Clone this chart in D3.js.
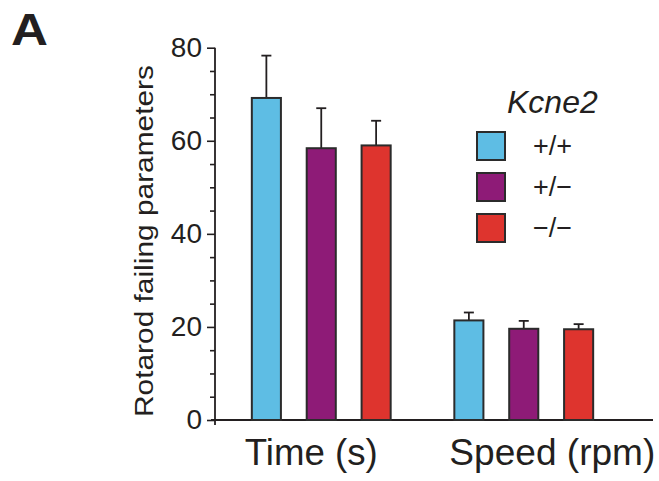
<!DOCTYPE html>
<html>
<head>
<meta charset="utf-8">
<script src="https://cdn.jsdelivr.net/npm/d3@7"></script>
<style>
  body { margin: 0; background: #fff; }
  text { font-family: "Liberation Sans", Arial, sans-serif; fill: #231f20; }
</style>
</head>
<body>
<svg id="chart"></svg>
<script>
const groups = ["Time (s)", "Speed (rpm)"];
const genotypes = ["+/+", "+/\u2212", "\u2212/\u2212"];
const colors = ["#5ebde4", "#8e1b77", "#de342e"];
// rows follow groups, columns follow genotypes
const means = [[69.2, 58.4, 59.0], [21.4, 19.6, 19.5]];
const errors = [[9.1, 8.6, 5.3], [1.7, 1.7, 1.1]];
const majorTicks = [0, 20, 40, 60, 80];
const minorTicks = [5, 10, 15, 25, 30, 35, 45, 50, 55, 65, 70, 75];

const width = 659;
const height = 481;
const axisX = 215;

const svg = d3.select("#chart").attr("width", width).attr("height", height);

const y = d3.scaleLinear().domain([0, 80]).range([420, 47.7]);

const x0 = d3.scaleBand().domain(groups).range([220, 625]);
const x1 = d3.scaleBand().domain(genotypes).range([0, x0.bandwidth()])
  .paddingInner(0.47).paddingOuter(0.58);

// y axis, major then minor ticks
const yAxis = svg.append("g")
  .attr("transform", `translate(${axisX},0)`)
  .call(d3.axisLeft(y).tickValues(majorTicks).tickSize(8).tickPadding(5));
yAxis.select(".domain").remove();
yAxis.selectAll("line").attr("stroke", "#231f20").attr("stroke-width", 1.6);
yAxis.selectAll("text")
  .style("font-size", "28px")
  .style("font-family", "'Liberation Sans', Arial, sans-serif")
  .attr("fill", "#231f20");

const yMinor = svg.append("g")
  .attr("transform", `translate(${axisX},0)`)
  .call(d3.axisLeft(y).tickValues(minorTicks).tickSize(5).tickFormat(""));
yMinor.select(".domain").remove();
yMinor.selectAll("line").attr("stroke", "#231f20").attr("stroke-width", 1.6);

svg.append("line")
  .attr("x1", axisX).attr("x2", axisX)
  .attr("y1", y(80)).attr("y2", y(0) + 5)
  .attr("stroke", "#231f20").attr("stroke-width", 1.8);

// x baseline
svg.append("line")
  .attr("x1", axisX - 4).attr("x2", 653)
  .attr("y1", y(0)).attr("y2", y(0))
  .attr("stroke", "#231f20").attr("stroke-width", 1.8);

// bars
const g = svg.selectAll(".group")
  .data(groups)
  .enter()
  .append("g")
  .attr("class", "group")
  .attr("transform", (d) => `translate(${x0(d)},0)`);

const cells = g.selectAll(".cell")
  .data((d, i) => genotypes.map((k, j) => ({ k, j, m: means[i][j], e: errors[i][j] })))
  .enter()
  .append("g")
  .attr("class", "cell");

cells.append("line")
  .attr("x1", (d) => x1(d.k) + x1.bandwidth() / 2)
  .attr("x2", (d) => x1(d.k) + x1.bandwidth() / 2)
  .attr("y1", (d) => y(d.m))
  .attr("y2", (d) => y(d.m + d.e))
  .attr("stroke", "#231f20").attr("stroke-width", 1.8);

cells.append("line")
  .attr("x1", (d) => x1(d.k) + x1.bandwidth() / 2 - 5)
  .attr("x2", (d) => x1(d.k) + x1.bandwidth() / 2 + 5)
  .attr("y1", (d) => y(d.m + d.e))
  .attr("y2", (d) => y(d.m + d.e))
  .attr("stroke", "#231f20").attr("stroke-width", 1.8);

cells.append("rect")
  .attr("x", (d) => x1(d.k))
  .attr("y", (d) => y(d.m))
  .attr("width", x1.bandwidth())
  .attr("height", (d) => y(0) - y(d.m))
  .attr("fill", (d) => colors[d.j])
  .attr("stroke", "#2b2b2b")
  .attr("stroke-width", 2);

// group labels, starting a little left of each group's first bar
svg.selectAll(".glabel")
  .data(groups)
  .enter()
  .append("text")
  .attr("class", "glabel")
  .attr("x", (d, i) => x0(d) + x1(genotypes[0]) - (i === 0 ? 7 : 5))
  .attr("y", 465)
  .attr("textLength", (d, i) => (i === 0 ? 133 : 206))
  .attr("lengthAdjust", "spacingAndGlyphs")
  .style("font-size", "36px")
  .text((d) => d);

// y label
svg.append("text")
  .attr("transform", "translate(153,241) rotate(-90)")
  .attr("text-anchor", "middle")
  .attr("textLength", 352)
  .attr("lengthAdjust", "spacingAndGlyphs")
  .style("font-size", "25px")
  .text("Rotarod failing parameters");

// legend
svg.append("text")
  .attr("x", 507).attr("y", 113)
  .style("font-size", "32px")
  .style("font-style", "italic")
  .text("Kcne2");

const legend = svg.selectAll(".leg")
  .data(genotypes)
  .enter()
  .append("g")
  .attr("class", "leg")
  .attr("transform", (d, i) => `translate(477,${132 + i * 41})`);

legend.append("rect")
  .attr("width", 28).attr("height", 28)
  .attr("fill", (d, i) => colors[i])
  .attr("stroke", "#2b2b2b").attr("stroke-width", 2);

legend.append("text")
  .attr("x", 56).attr("y", 23)
  .style("font-size", "27px")
  .text((d) => d);

// panel letter
svg.append("text")
  .attr("x", 11).attr("y", 45)
  .attr("textLength", 37)
  .attr("lengthAdjust", "spacingAndGlyphs")
  .style("font-size", "44px")
  .style("font-weight", "bold")
  .text("A");
</script>
</body>
</html>
